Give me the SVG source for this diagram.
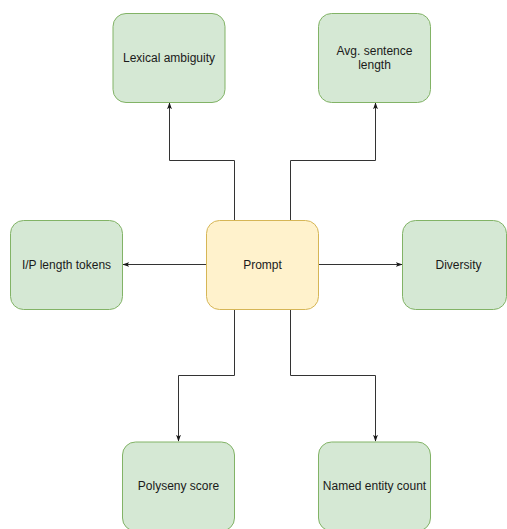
<svg xmlns="http://www.w3.org/2000/svg" width="507" height="529" viewBox="0 0 507 529">
<defs>
<style>
.g{fill:#d5e8d4;stroke:#82b366;stroke-width:1}
.y{fill:#fff2cc;stroke:#d6b656;stroke-width:1}
.t{font-family:"Liberation Sans",Arial,sans-serif;font-size:12px;fill:#1a1a1a;text-anchor:middle;dominant-baseline:central}
.c{fill:none;stroke:#333333;stroke-width:1}
</style>
<marker id="a" viewBox="0 0 10 10" refX="9" refY="5" markerWidth="7" markerHeight="7" markerUnits="userSpaceOnUse" orient="auto">
<path d="M0,1.5 L10,5 L0,8.5 L2.5,5 Z" fill="#1a1a1a"/>
</marker>
</defs>
<rect width="507" height="529" fill="#ffffff"/>
<g id="connectors">
<path class="c" d="M234.5,220.5 V160.5 H169.5 V103" marker-end="url(#a)"/>
<path class="c" d="M290.5,220.5 V160.5 H375.5 V103" marker-end="url(#a)"/>
<path class="c" d="M206.5,264.5 H123" marker-end="url(#a)"/>
<path class="c" d="M318.5,264.5 H402" marker-end="url(#a)"/>
<path class="c" d="M234.5,309.5 V375.5 H178.5 V441" marker-end="url(#a)"/>
<path class="c" d="M290.5,309.5 V375.5 H375.5 V441" marker-end="url(#a)"/>
</g>
<g id="lexical">
<rect class="g" x="113" y="13.5" width="112" height="89" rx="13"/>
<text class="t" x="169" y="58">Lexical ambiguity</text>
</g>
<g id="avg">
<rect class="g" x="318.5" y="13.5" width="112" height="89" rx="13"/>
<text class="t" x="374.5" y="51">Avg. sentence</text>
<text class="t" x="374.5" y="65">length</text>
</g>
<g id="ip">
<rect class="g" x="10.5" y="220.5" width="112" height="89" rx="13"/>
<text class="t" x="66.5" y="265">I/P length tokens</text>
</g>
<g id="prompt">
<rect class="y" x="206.5" y="220.5" width="112" height="89" rx="13"/>
<text class="t" x="262.5" y="265">Prompt</text>
</g>
<g id="diversity">
<rect class="g" x="402.5" y="220.5" width="104" height="89" rx="13"/>
<text class="t" x="458.5" y="265">Diversity</text>
</g>
<g id="polyseny">
<rect class="g" x="122.5" y="442" width="112" height="89" rx="13"/>
<text class="t" x="178.5" y="486">Polyseny score</text>
</g>
<g id="named">
<rect class="g" x="318.5" y="442" width="112" height="89" rx="13"/>
<text class="t" x="374.5" y="486">Named entity count</text>
</g>
</svg>
